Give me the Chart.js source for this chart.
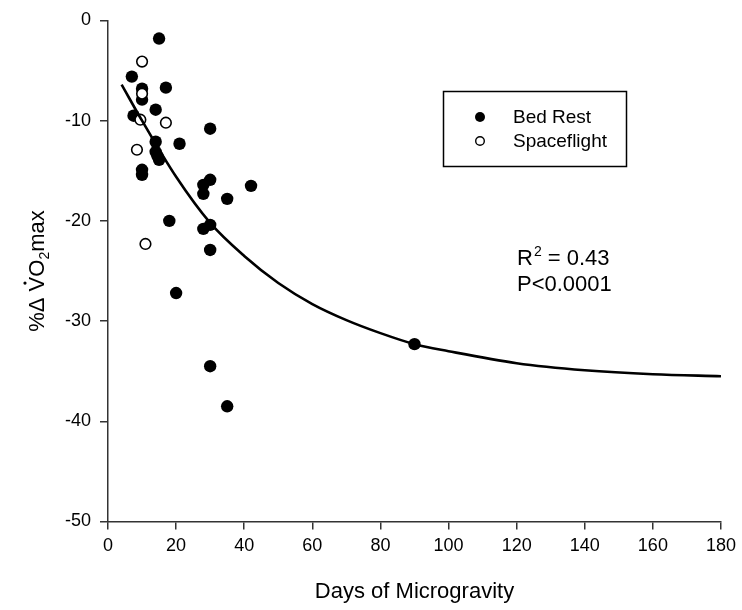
<!DOCTYPE html>
<html>
<head>
<meta charset="utf-8">
<script src="https://cdn.jsdelivr.net/npm/chart.js@4.4.1/dist/chart.umd.min.js"></script>
<style>
  html, body { margin: 0; padding: 0; background: #fff; }
  #wrap { width: 742px; height: 610px; }
</style>
</head>
<body>
<div id="wrap"><canvas id="chart" width="742" height="610"></canvas></div>
<script>
const FONT = '"Liberation Sans", Arial, Helvetica, sans-serif';

// Bed rest studies (filled circles)
const bedRestDays = [15, 7, 17, 10, 10, 14, 7.5, 30, 14, 21, 14, 14.5, 15, 10, 10,
                     28, 30, 28, 35, 42, 18, 28, 30, 30, 20, 30, 35, 90];
const bedRestChange = [-1.8, -5.6, -6.7, -6.8, -7.9, -8.9, -9.5, -10.8, -12.1, -12.3, -13.1, -13.5, -13.9, -14.9, -15.4,
                       -16.4, -15.9, -17.3, -17.8, -16.5, -20.0, -20.8, -20.4, -22.9, -27.2, -34.5, -38.5, -32.3];

// Spaceflight studies (open circles)
const flightDays = [10, 10, 9.5, 17, 8.5, 11];
const flightChange = [-4.1, -7.3, -9.9, -10.2, -12.9, -22.3];

// fitted curve
const fitDays = [4, 10, 20, 30, 40, 50, 60, 70, 80, 90, 100, 120, 140, 160, 180];
const fitChange = [-6.4, -10.0, -15.6, -20.2, -23.5, -26.2, -28.3, -29.9, -31.2, -32.3, -33.0, -34.2, -34.9, -35.3, -35.5];

const xTicks = [0, 20, 40, 60, 80, 100, 120, 140, 160, 180];
const yTicks = [-50, -40, -30, -20, -10, 0];

const toPoints = (xs, ys) => xs.map((x, i) => ({ x, y: ys[i] }));

const legendItems = [
  { label: 'Bed Rest', filled: true },
  { label: 'Spaceflight', filled: false },
];

// legend box, stats text and axis titles
const annotations = {
  id: 'annotations',
  afterDraw(chart) {
    const ctx = chart.ctx;
    const area = chart.chartArea;
    ctx.save();
    ctx.fillStyle = '#000';
    ctx.strokeStyle = '#000';

    // legend
    ctx.lineWidth = 1.5;
    ctx.strokeRect(443.5, 91.5, 183, 75);
    ctx.font = `19px ${FONT}`;
    ctx.textBaseline = 'middle';
    ctx.textAlign = 'left';
    legendItems.forEach((item, i) => {
      const y = 117 + i * 24;
      ctx.beginPath();
      if (item.filled) {
        ctx.arc(480, y, 5, 0, Math.PI * 2);
        ctx.fill();
      } else {
        ctx.lineWidth = 1.4;
        ctx.arc(480, y, 4.3, 0, Math.PI * 2);
        ctx.stroke();
      }
      ctx.fillText(item.label, 513, y + 1);
    });

    // R^2 and P
    ctx.textBaseline = 'alphabetic';
    ctx.font = `22px ${FONT}`;
    ctx.fillText('R', 517, 265);
    let x = 517 + ctx.measureText('R').width;
    ctx.font = `14px ${FONT}`;
    ctx.fillText('2', x + 1, 256);
    x += 1 + ctx.measureText('2').width;
    ctx.font = `22px ${FONT}`;
    ctx.fillText(' = 0.43', x, 265);
    ctx.fillText('P<0.0001', 517, 291);

    // x title
    ctx.textAlign = 'center';
    ctx.fillText('Days of Microgravity', (area.left + area.right) / 2, 598);

    // y title: %Δ V̇O2max
    ctx.save();
    ctx.translate(44, (area.top + area.bottom) / 2);
    ctx.rotate(-Math.PI / 2);
    ctx.textAlign = 'left';
    const big = `22px ${FONT}`;
    const small = `14px ${FONT}`;
    const parts = [
      { t: '%\u0394 ', f: big, dy: 0 },
      { t: 'V', f: big, dy: 0, dot: true },
      { t: 'O', f: big, dy: 0 },
      { t: '2', f: small, dy: 5 },
      { t: 'max', f: big, dy: 0 },
    ];
    let total = 0;
    parts.forEach((p) => { ctx.font = p.f; p.w = ctx.measureText(p.t).width; total += p.w; });
    let px = -total / 2;
    parts.forEach((p) => {
      ctx.font = p.f;
      ctx.fillText(p.t, px, p.dy);
      if (p.dot) {
        ctx.beginPath();
        ctx.arc(px + p.w / 2 + 1, -19, 1.6, 0, Math.PI * 2);
        ctx.fill();
      }
      px += p.w;
    });
    ctx.restore();

    ctx.restore();
  },
};

const axisColor = '#333';

new Chart(document.getElementById('chart'), {
  type: 'scatter',
  data: {
    datasets: [
      {
        label: 'fit',
        data: toPoints(fitDays, fitChange),
        showLine: true,
        borderColor: '#000',
        borderWidth: 2.6,
        pointRadius: 0,
        cubicInterpolationMode: 'monotone',
        order: 0,
      },
      {
        label: 'Spaceflight',
        data: toPoints(flightDays, flightChange),
        backgroundColor: '#fff',
        borderColor: '#000',
        borderWidth: 1.6,
        pointRadius: 5.3,
        order: 1,
      },
      {
        label: 'Bed Rest',
        data: toPoints(bedRestDays, bedRestChange),
        backgroundColor: '#000',
        borderColor: '#000',
        borderWidth: 0,
        pointRadius: 6.2,
        order: 2,
      },
    ],
  },
  options: {
    responsive: false,
    animation: false,
    events: [],
    layout: { padding: { left: 0, top: 20.5, right: 20.3, bottom: 0 } },
    plugins: { legend: { display: false }, tooltip: { enabled: false } },
    scales: {
      x: {
        type: 'linear',
        min: 0,
        max: 180,
        afterBuildTicks: (scale) => { scale.ticks = xTicks.map(v => ({ value: v })); },
        afterFit: (scale) => { scale.height = 88.5; },
        ticks: { color: '#000', font: { family: FONT, size: 18 }, padding: 6, maxRotation: 0 },
        grid: { drawOnChartArea: false, drawTicks: true, tickLength: 8, color: axisColor, lineWidth: 1.5 },
        border: { color: axisColor, width: 1.5 },
      },
      y: {
        type: 'linear',
        min: -50,
        max: 0,
        afterBuildTicks: (scale) => { scale.ticks = yTicks.map(v => ({ value: v })); },
        afterFit: (scale) => { scale.width = 108; },
        ticks: { color: '#000', font: { family: FONT, size: 18 }, padding: 9 },
        grid: { drawOnChartArea: false, drawTicks: true, tickLength: 8, color: axisColor, lineWidth: 1.5 },
        border: { color: axisColor, width: 1.5 },
      },
    },
  },
  plugins: [annotations],
});
</script>
</body>
</html>
